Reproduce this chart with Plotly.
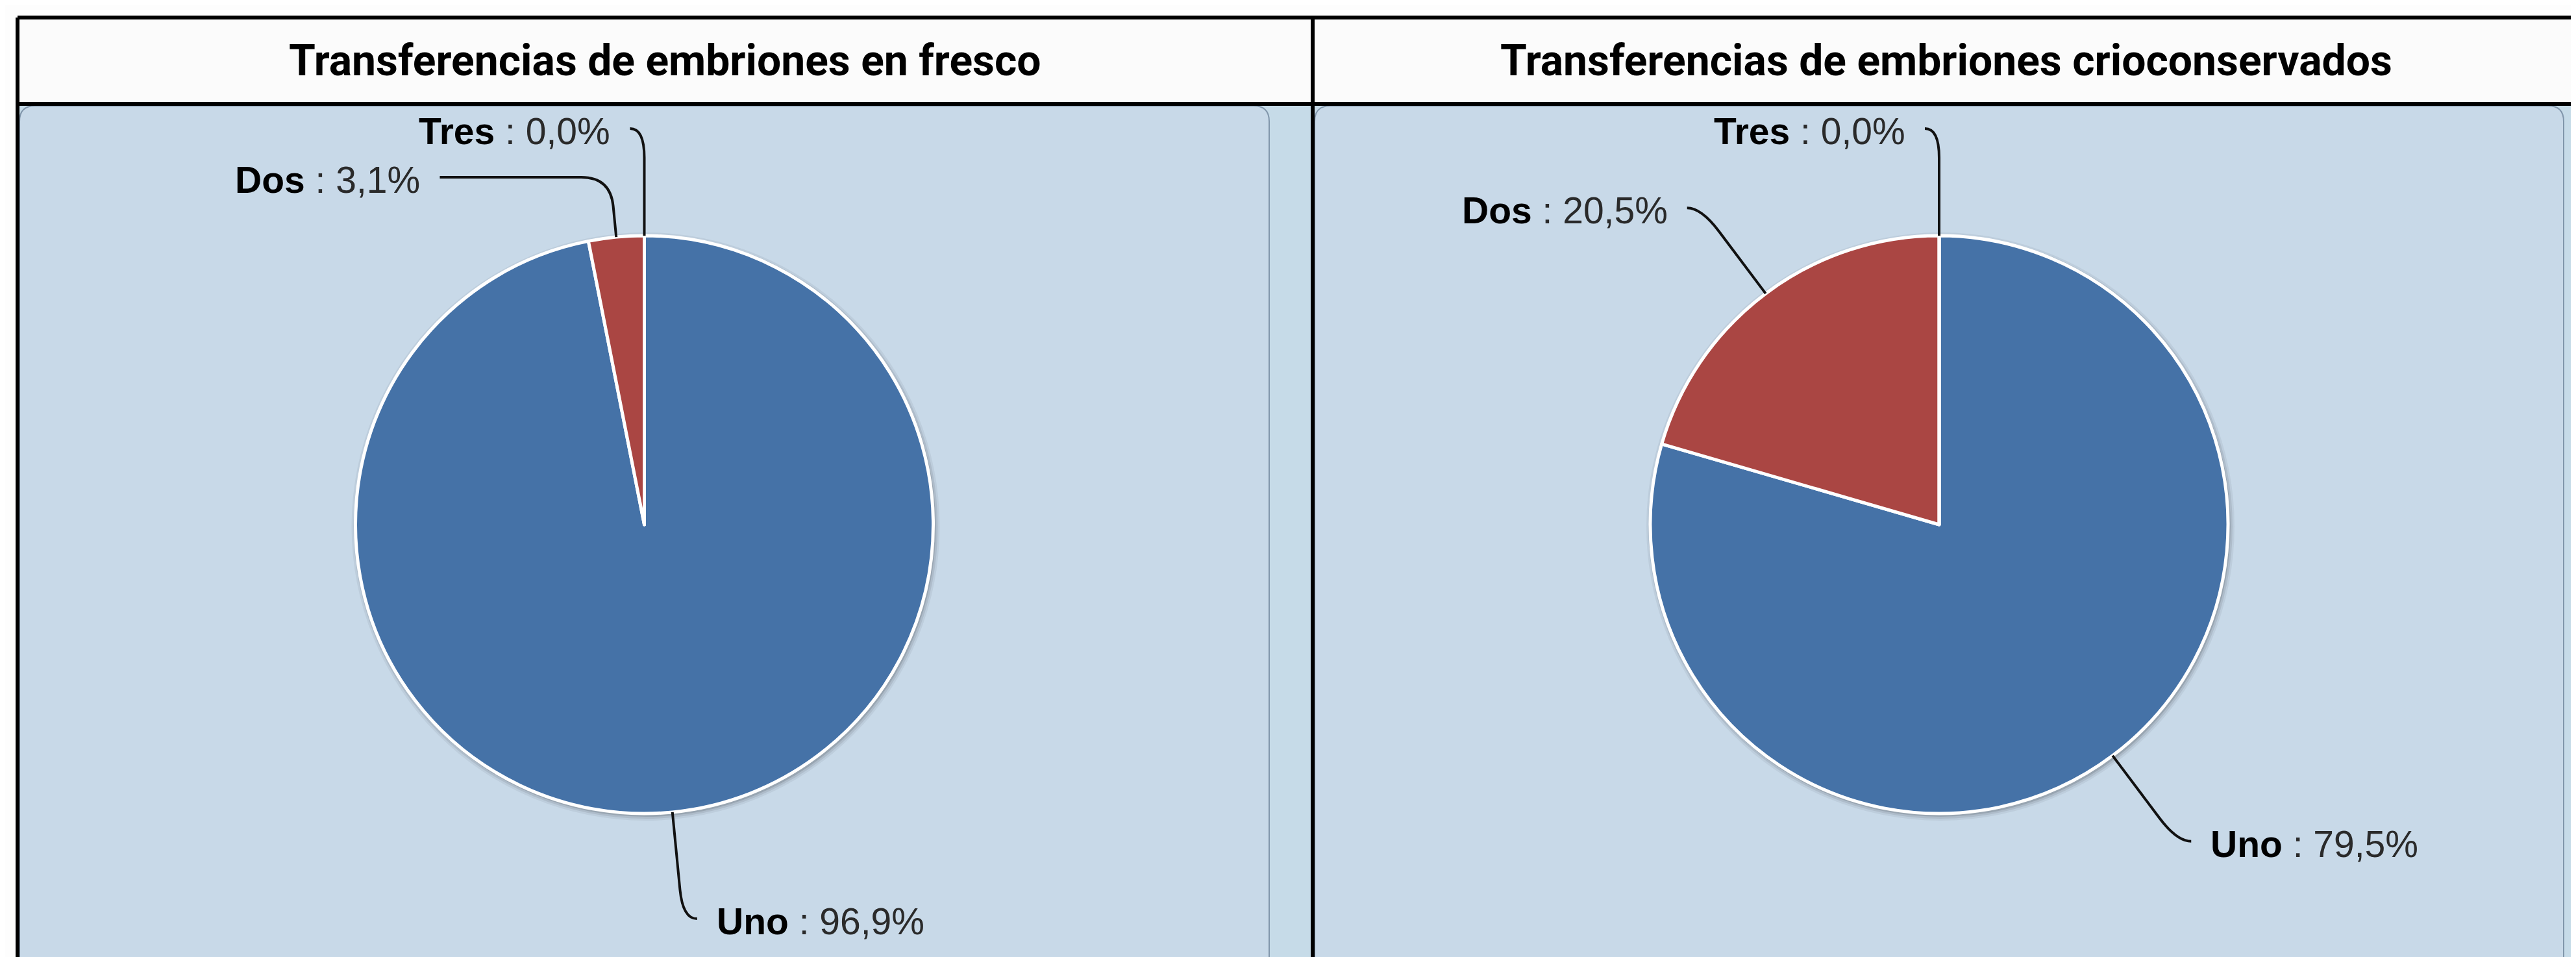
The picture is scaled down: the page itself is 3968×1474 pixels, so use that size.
import math
import plotly.graph_objects as go

# ---------------- data ----------------
titles = ["Transferencias de embriones en fresco",
          "Transferencias de embriones crioconservados"]
categories = ["Uno", "Dos", "Tres"]
fresh_pct = [96.9, 3.1, 0.0]
frozen_pct = [79.5, 20.5, 0.0]
slice_colors = ["#4572A7", "#AA4643", "#89A54E"]

# ---------------- geometry (pixels) ----------------
W, H = 3968, 1474
TOP = 19
HEADER_BOTTOM = 152
LEFT = 19
MID = 2014
RIGHT = 3966
panels = [(22, 1947), (2017, 3941)]
PANEL_TOP = 155
PIE_CY = 800
PIE_R = 445
LABEL_R = 610
LABEL_GAP = 75
CONN_OFF = 22
TEXT_OFF = 50


def px(x):
    return x / W


def py(y):
    return 1 - y / H


fig = go.Figure()
shapes = []
annotations = []

# header / column backgrounds
shapes.append(dict(type="rect", xref="paper", yref="paper", layer="below",
                   x0=px(LEFT), x1=px(RIGHT), y0=py(TOP), y1=py(HEADER_BOTTOM),
                   fillcolor="#fbfbfb", line=dict(width=0)))
shapes.append(dict(type="rect", xref="paper", yref="paper", layer="below",
                   x0=px(LEFT), x1=px(RIGHT), y0=py(HEADER_BOTTOM), y1=py(H + 10),
                   fillcolor="#c6dbe8", line=dict(width=0)))


def rounded_panel(x0, x1, y0, y1, r):
    pts = [
        f"M {px(x0)},{py(y1)}",
        f"L {px(x0)},{py(y0 + r)}",
        f"Q {px(x0)},{py(y0)} {px(x0 + r)},{py(y0)}",
        f"L {px(x1 - r)},{py(y0)}",
        f"Q {px(x1)},{py(y0)} {px(x1)},{py(y0 + r)}",
        f"L {px(x1)},{py(y1)}",
        "Z",
    ]
    return " ".join(pts)


for (x0, x1) in panels:
    shapes.append(dict(type="path", xref="paper", yref="paper", layer="below",
                       path=rounded_panel(x0, x1, PANEL_TOP, H + 40, 24),
                       fillcolor="#c8d9e8", line=dict(color="#8196ab", width=2)))


def fmt(v):
    return f"{v:.1f}".replace(".", ",") + "%"


def add_pie(cx, values, title, col_center):
    # soft shadow behind the pie
    for grow, alpha in [(8, 0.05), (5, 0.08), (2, 0.12)]:
        shapes.append(dict(type="circle", xref="paper", yref="paper", layer="below",
                           x0=px(cx - PIE_R - grow + 2), x1=px(cx + PIE_R + grow + 2),
                           y0=py(PIE_CY + PIE_R + grow + 3), y1=py(PIE_CY - PIE_R - grow + 3),
                           fillcolor=f"rgba(0,0,0,{alpha})", line=dict(width=0)))
    fig.add_trace(go.Pie(
        labels=categories, values=values, sort=False, direction="clockwise",
        rotation=0, textinfo="none", showlegend=False,
        marker=dict(colors=slice_colors, line=dict(color="white", width=5)),
        domain=dict(x=[px(cx - PIE_R), px(cx + PIE_R)],
                    y=[py(PIE_CY + PIE_R), py(PIE_CY - PIE_R)]),
        hovertemplate="%{label}: %{value}%<extra></extra>",
    ))

    # header title
    annotations.append(dict(xref="paper", yref="paper", x=px(col_center),
                            y=py((TOP + HEADER_BOTTOM) / 2), text=f"<b>{title}</b>",
                            showarrow=False, xanchor="center", yanchor="middle",
                            font=dict(family="Roboto, Liberation Sans, Arial",
                                      size=66, color="#000")))

    # data labels with connectors
    total = sum(values)
    cum = 0.0
    items = []
    for name, v in zip(categories, values):
        mid = (cum + v / 2) / total * 360.0
        cum += v
        th = math.radians(mid)
        sx, sy = math.sin(th), -math.cos(th)
        side = 1 if mid < 180 else -1
        items.append(dict(name=name, v=v, sx=sx, sy=sy, side=side,
                          ax=cx + PIE_R * sx, ay=PIE_CY + PIE_R * sy,
                          lx=cx + LABEL_R * sx, ly=PIE_CY + LABEL_R * sy))
    for side in (1, -1):
        grp = sorted([it for it in items if it["side"] == side], key=lambda d: d["ly"])
        for i in range(1, len(grp)):
            if grp[i]["ly"] < grp[i - 1]["ly"] + LABEL_GAP:
                grp[i]["ly"] = grp[i - 1]["ly"] + LABEL_GAP
                dy = grp[i]["ly"] - PIE_CY
                grp[i]["lx"] = cx + side * math.sqrt(max(LABEL_R ** 2 - dy ** 2, 0))
    for it in items:
        side = it["side"]
        ax, ay, lx, ly = it["ax"], it["ay"], it["lx"], it["ly"]
        ex = lx + side * CONN_OFF
        if abs(it["sy"]) > 0.2:
            t = (ly - PIE_CY) / it["sy"]
            Px = cx + t * it["sx"]
        else:
            t = LABEL_R
            Px = lx
        Py = ly
        seg = max(t - PIE_R, 1)
        rho = min(45, 0.5 * seg)
        hdir = 1 if ex >= Px else -1
        rho2 = min(rho, abs(ex - Px))
        bx, by = Px - it["sx"] * rho, Py - it["sy"] * rho
        path = (f"M {px(ax)},{py(ay)} L {px(bx)},{py(by)} "
                f"Q {px(Px)},{py(Py)} {px(Px + hdir * rho2)},{py(Py)} "
                f"L {px(ex)},{py(Py)}")
        shapes.append(dict(type="path", xref="paper", yref="paper", layer="above",
                           path=path, line=dict(color="#111", width=4)))
        annotations.append(dict(
            xref="paper", yref="paper", x=px(lx + side * TEXT_OFF), y=py(ly + 4),
            text=f"<b>{it['name']}</b><span style='color:#2a2a2a'> : {fmt(it['v'])}</span>",
            showarrow=False, xanchor="left" if side > 0 else "right", yanchor="middle",
            font=dict(family="Liberation Sans, Arial", size=57, color="#000")))


add_pie((panels[0][0] + panels[0][1]) / 2, fresh_pct, titles[0], (LEFT + MID) / 2)
add_pie((panels[1][0] + panels[1][1]) / 2, frozen_pct, titles[1], (MID + RIGHT) / 2)

# table borders
for (x0, y0, x1, y1) in [(LEFT, TOP, RIGHT, TOP), (LEFT, HEADER_BOTTOM, RIGHT, HEADER_BOTTOM),
                         (LEFT, TOP, LEFT, H + 10), (MID, TOP, MID, H + 10),
                         (RIGHT, TOP, RIGHT, H + 10)]:
    shapes.append(dict(type="line", xref="paper", yref="paper", layer="above",
                       x0=px(x0), y0=py(y0), x1=px(x1), y1=py(y1),
                       line=dict(color="#000", width=6)))

fig.update_layout(
    width=W, height=H, margin=dict(l=0, r=0, t=0, b=0),
    paper_bgcolor="#fdfdfd", plot_bgcolor="#fdfdfd",
    shapes=shapes, annotations=annotations, showlegend=False,
)

fig.write_html("out.html")
